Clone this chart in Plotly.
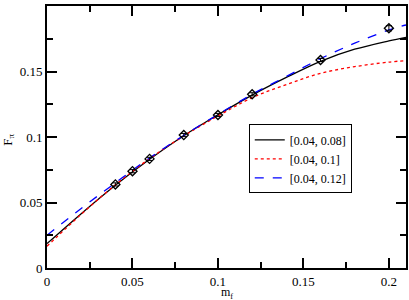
import plotly.graph_objects as go

# data points
m_data = [0.04, 0.05, 0.06, 0.08, 0.10, 0.12, 0.16, 0.20]
f_data = [0.0638, 0.0739, 0.0833, 0.1015, 0.1168, 0.1326, 0.1588, 0.1830]
f_err = [0.0012, 0.0012, 0.0012, 0.0012, 0.0012, 0.0012, 0.0012, 0.0020]

# fit curves
m_fit = [0.0, 0.02, 0.04, 0.06, 0.08, 0.10, 0.12, 0.14, 0.16, 0.18, 0.20, 0.21]
fit_008 = [0.0186, 0.0415, 0.0632, 0.0830, 0.1010, 0.1170, 0.1320, 0.1455, 0.1578, 0.1670, 0.1734, 0.1761]
fit_010 = [0.0166, 0.0410, 0.0635, 0.0835, 0.1008, 0.1160, 0.1300, 0.1400, 0.1486, 0.1537, 0.1572, 0.1583]
fit_012 = [0.0250, 0.0455, 0.0650, 0.0840, 0.1012, 0.1172, 0.1326, 0.1462, 0.1598, 0.1716, 0.1817, 0.1855]

names = ["[0.04, 0.08]", "[0.04, 0.1]", "[0.04, 0.12]"]

x_ticks = [0, 0.05, 0.1, 0.15, 0.2]
x_labels = ["0", "0.05", "0.1", "0.15", "0.2"]
y_ticks = [0, 0.05, 0.1, 0.15, 0.2]
y_labels = ["0", "0.05", "0.1", "0.15", "0.2"]

FONT = "Liberation Serif"

fig = go.Figure()
fig.add_trace(go.Scatter(x=m_fit, y=fit_008, mode="lines", name=names[0],
                         line=dict(color="black", width=1.3, shape="spline")))
fig.add_trace(go.Scatter(x=m_fit, y=fit_010, mode="lines", name=names[1],
                         line=dict(color="rgb(255,0,0)", width=1.3, dash="dot", shape="spline")))
fig.add_trace(go.Scatter(x=m_fit, y=fit_012, mode="lines", name=names[2],
                         line=dict(color="rgb(0,0,255)", width=1.3, dash="dash", shape="spline")))
fig.add_trace(go.Scatter(x=m_data, y=f_data, mode="markers", showlegend=False,
                         marker=dict(symbol="diamond-open", size=7, color="black",
                                     line=dict(width=1.3, color="black")),
                         error_y=dict(type="data", array=f_err, color="black",
                                      thickness=1, width=3)))

axis_common = dict(
    showline=True, linecolor="black", linewidth=2, mirror="ticks",
    ticks="inside", ticklen=10, tickwidth=1.5, tickcolor="black",
    showgrid=False, zeroline=False, automargin=False,
    tickfont=dict(family=FONT, size=13, color="black"),
)

fig.update_xaxes(range=[0, 0.21], tickvals=x_ticks, ticktext=x_labels,
                 minor=dict(ticks="inside", ticklen=6, tickwidth=1.5, tickcolor="black", dtick=0.025, tick0=0),
                 **axis_common)
fig.update_yaxes(range=[0, 0.2], tickvals=y_ticks, ticktext=y_labels,
                 minor=dict(ticks="inside", ticklen=6, tickwidth=1.5, tickcolor="black", dtick=0.025, tick0=0),
                 **axis_common)

fig.add_annotation(text="m<sub>f</sub>", xref="paper", yref="paper", x=0.5, y=-0.057,
                   xanchor="center", yanchor="top", showarrow=False,
                   font=dict(family=FONT, size=12, color="black"))
fig.add_annotation(text="F<sub>π</sub>", xref="paper", yref="paper", x=-0.108, y=0.49,
                   xanchor="center", yanchor="middle", showarrow=False, textangle=-90,
                   font=dict(family=FONT, size=13, color="black"))

fig.update_layout(
    width=409, height=300,
    margin=dict(l=47, r=3, t=6, b=32),
    plot_bgcolor="white", paper_bgcolor="white",
    font=dict(family=FONT, size=13, color="black"),
    legend=dict(x=0.562, y=0.548, xanchor="left", yanchor="top",
                bordercolor="black", borderwidth=1, bgcolor="white",
                font=dict(family=FONT, size=12, color="black"),
                tracegroupgap=0, itemwidth=30),
)

fig.write_html("out.html", config={"displayModeBar": False},
               post_script="document.body.style.margin='0px';document.body.style.overflow='hidden';")
